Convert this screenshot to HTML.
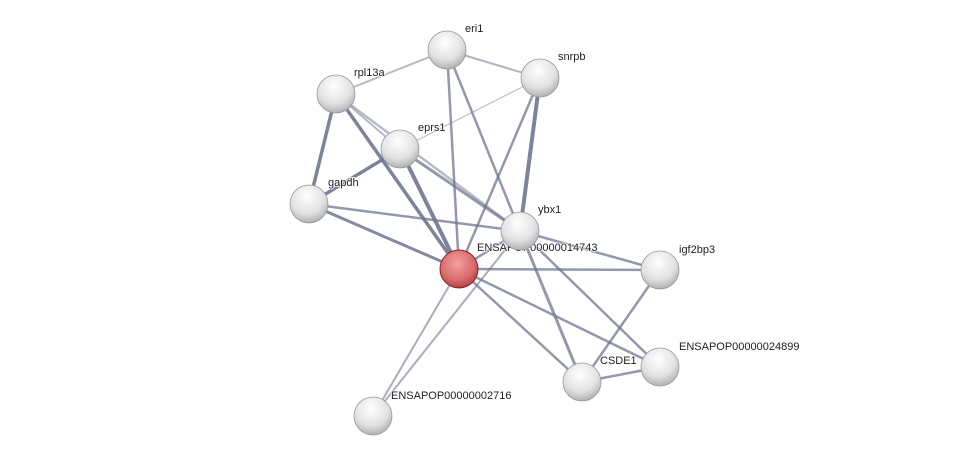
<!DOCTYPE html>
<html><head><style>body{margin:0;background:#fff}svg{display:block}text{font-family:"Liberation Sans",sans-serif;font-size:11px;fill:#222;paint-order:stroke;stroke:#fff;stroke-width:2px;stroke-opacity:0.8}</style></head><body>
<svg width="975" height="462" viewBox="0 0 975 462">
<defs>
<radialGradient id="g" cx="0.45" cy="0.3" r="0.75"><stop offset="0" stop-color="#ffffff"/><stop offset="0.6" stop-color="#e2e2e2"/><stop offset="1" stop-color="#a8a8a8"/></radialGradient>
<radialGradient id="r" cx="0.45" cy="0.35" r="0.75"><stop offset="0" stop-color="#f4a0a0"/><stop offset="0.6" stop-color="#d96a6a"/><stop offset="1" stop-color="#9a3030"/></radialGradient>
</defs>
<g stroke="#6f7690" stroke-opacity="0.75" fill="none">
<line x1="336" y1="94" x2="447" y2="50" stroke-width="2" stroke-opacity="0.5"/>
<line x1="447" y1="50" x2="540" y2="78" stroke-width="2" stroke-opacity="0.55"/>
<line x1="447" y1="50" x2="459" y2="269" stroke-width="2.5"/>
<line x1="447" y1="50" x2="520" y2="231" stroke-width="2.5"/>
<line x1="540" y1="78" x2="400" y2="149" stroke-width="1.2" stroke-opacity="0.45"/>
<line x1="540" y1="78" x2="520" y2="231" stroke-width="4" stroke-opacity="0.9"/>
<line x1="540" y1="78" x2="459" y2="269" stroke-width="2.5"/>
<line x1="336" y1="94" x2="309" y2="204" stroke-width="3.5" stroke-opacity="0.9"/>
<line x1="336" y1="94" x2="400" y2="149" stroke-width="2" stroke-opacity="0.5"/>
<line x1="336" y1="94" x2="459" y2="269" stroke-width="3.5" stroke-opacity="0.9"/>
<line x1="336" y1="94" x2="520" y2="231" stroke-width="2.5" stroke-opacity="0.5"/>
<line x1="400" y1="149" x2="309" y2="204" stroke-width="3.5" stroke-opacity="0.9"/>
<line x1="400" y1="149" x2="459" y2="269" stroke-width="4" stroke-opacity="0.9"/>
<line x1="400" y1="149" x2="520" y2="231" stroke-width="3"/>
<line x1="309" y1="204" x2="520" y2="231" stroke-width="2.5"/>
<line x1="309" y1="204" x2="459" y2="269" stroke-width="3" stroke-opacity="0.85"/>
<line x1="459" y1="269" x2="520" y2="231" stroke-width="2.5"/>
<line x1="459" y1="269" x2="660" y2="270" stroke-width="2.5"/>
<line x1="520" y1="231" x2="660" y2="270" stroke-width="2.5"/>
<line x1="459" y1="269" x2="582" y2="382" stroke-width="2.5"/>
<line x1="459" y1="269" x2="660" y2="367" stroke-width="2.5"/>
<line x1="459" y1="269" x2="373" y2="416" stroke-width="2" stroke-opacity="0.6"/>
<line x1="520" y1="231" x2="373" y2="416" stroke-width="2" stroke-opacity="0.6"/>
<line x1="520" y1="231" x2="582" y2="382" stroke-width="3"/>
<line x1="520" y1="231" x2="660" y2="367" stroke-width="2.5"/>
<line x1="660" y1="270" x2="582" y2="382" stroke-width="2.5"/>
<line x1="582" y1="382" x2="660" y2="367" stroke-width="2.5"/>
</g>
<text x="465" y="32">eri1</text>
<text x="558" y="60">snrpb</text>
<text x="354" y="76">rpl13a</text>
<text x="418" y="131">eprs1</text>
<text x="328" y="186">gapdh</text>
<text x="538" y="213">ybx1</text>
<text x="477" y="251">ENSAPOP00000014743</text>
<text x="679" y="253">igf2bp3</text>
<text x="679" y="350">ENSAPOP00000024899</text>
<text x="600" y="364">CSDE1</text>
<text x="391" y="399">ENSAPOP00000002716</text>
<g>
<circle cx="447" cy="50" r="19" fill="url(#g)" stroke="#999" stroke-width="0.8"/>
<circle cx="540" cy="78" r="19" fill="url(#g)" stroke="#999" stroke-width="0.8"/>
<circle cx="336" cy="94" r="19" fill="url(#g)" stroke="#999" stroke-width="0.8"/>
<circle cx="400" cy="149" r="19" fill="url(#g)" stroke="#999" stroke-width="0.8"/>
<circle cx="309" cy="204" r="19" fill="url(#g)" stroke="#999" stroke-width="0.8"/>
<circle cx="520" cy="231" r="19" fill="url(#g)" stroke="#999" stroke-width="0.8"/>
<circle cx="660" cy="270" r="19" fill="url(#g)" stroke="#999" stroke-width="0.8"/>
<circle cx="660" cy="367" r="19" fill="url(#g)" stroke="#999" stroke-width="0.8"/>
<circle cx="582" cy="382" r="19" fill="url(#g)" stroke="#999" stroke-width="0.8"/>
<circle cx="373" cy="416" r="19" fill="url(#g)" stroke="#999" stroke-width="0.8"/>
<circle cx="459" cy="269" r="19" fill="url(#r)" stroke="#8a2020" stroke-width="1"/>
</g>
</svg>
</body></html>
